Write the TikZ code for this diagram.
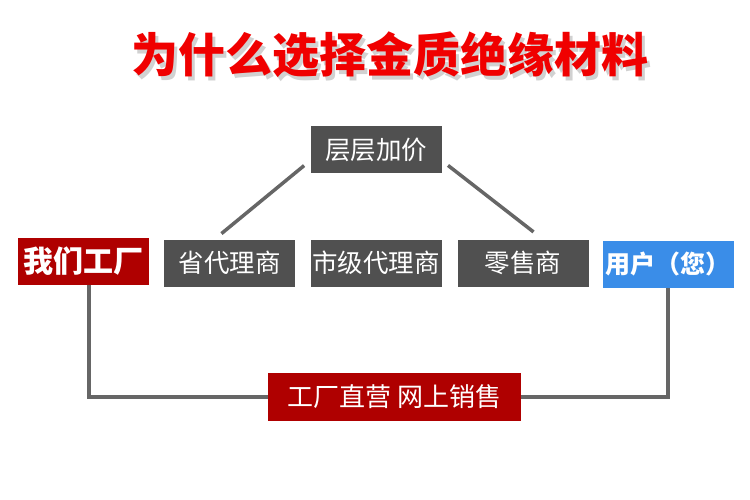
\documentclass[tikz,border=0pt]{standalone}
\usepackage{fontspec}
\newfontfamily\cjk{Noto Sans CJK SC}
\usepackage{tikz}
\usetikzlibrary{positioning}
\usepackage{xcolor}
\definecolor{boxgray}{HTML}{505050}
\definecolor{boxred}{HTML}{AF0000}
\definecolor{boxblue}{HTML}{3A8DE8}
\definecolor{titlered}{HTML}{F00000}
\definecolor{linegray}{HTML}{666666}

\begin{document}
\begin{tikzpicture}[x=1pt, y=-1pt,
  box/.style={inner sep=0pt, minimum width=131pt, minimum height=47pt, text=white,
    font=\cjk\fontsize{25.5}{28}\selectfont},
  grybox/.style={box, fill=boxgray},
  link/.style={draw=linegray, line width=3.5pt}]
\useasboundingbox (0,0) rectangle (750,500);
\def\rowy{263}
%title
\node[text=black!40, opacity=0.45, font=\cjk\bfseries\fontsize{47}{52}\selectfont] at (393,59) {为什么选择金质绝缘材料};
\node (title) [text=titlered, font=\cjk\bfseries\fontsize{47}{52}\selectfont] at (390,55) {为什么选择金质绝缘材料};
%top box
\node[grybox] (top) at (376,149.5) {层层加价};
%middle row
\node[box, fill=boxred, font=\cjk\bfseries\fontsize{30}{32}\selectfont] (fac) at (83.5,261.5) {我们工厂};
\foreach \n/\x/\t in {prov/229.5/省代理商, city/376/市级代理商, retail/523/零售商}
  \node[grybox] (\n) at (\x,\rowy) {\t};
\node[box, fill=boxblue, font=\cjk\bfseries\fontsize{25}{28}\selectfont] (user) at (668,264.5) {用户（您）};
%bottom box
\node[box, fill=boxred, minimum width=253pt, minimum height=48pt, font=\cjk\fontsize{26}{28}\selectfont] (direct) at (394.5,397) {工厂直营 网上销售};
%lines
\draw[link, shorten <=8pt, shorten >=9pt] ([yshift=-11pt]top.west) -- ([xshift=-15pt]prov.north);
\draw[link, shorten <=8pt, shorten >=12pt] ([yshift=-11pt]top.east) -- ([xshift=20pt]retail.north);
\draw[link] ([xshift=5.5pt]fac.south) |- (direct.west);
\draw[link] (user.south) |- (direct.east);
\end{tikzpicture}
\end{document}
